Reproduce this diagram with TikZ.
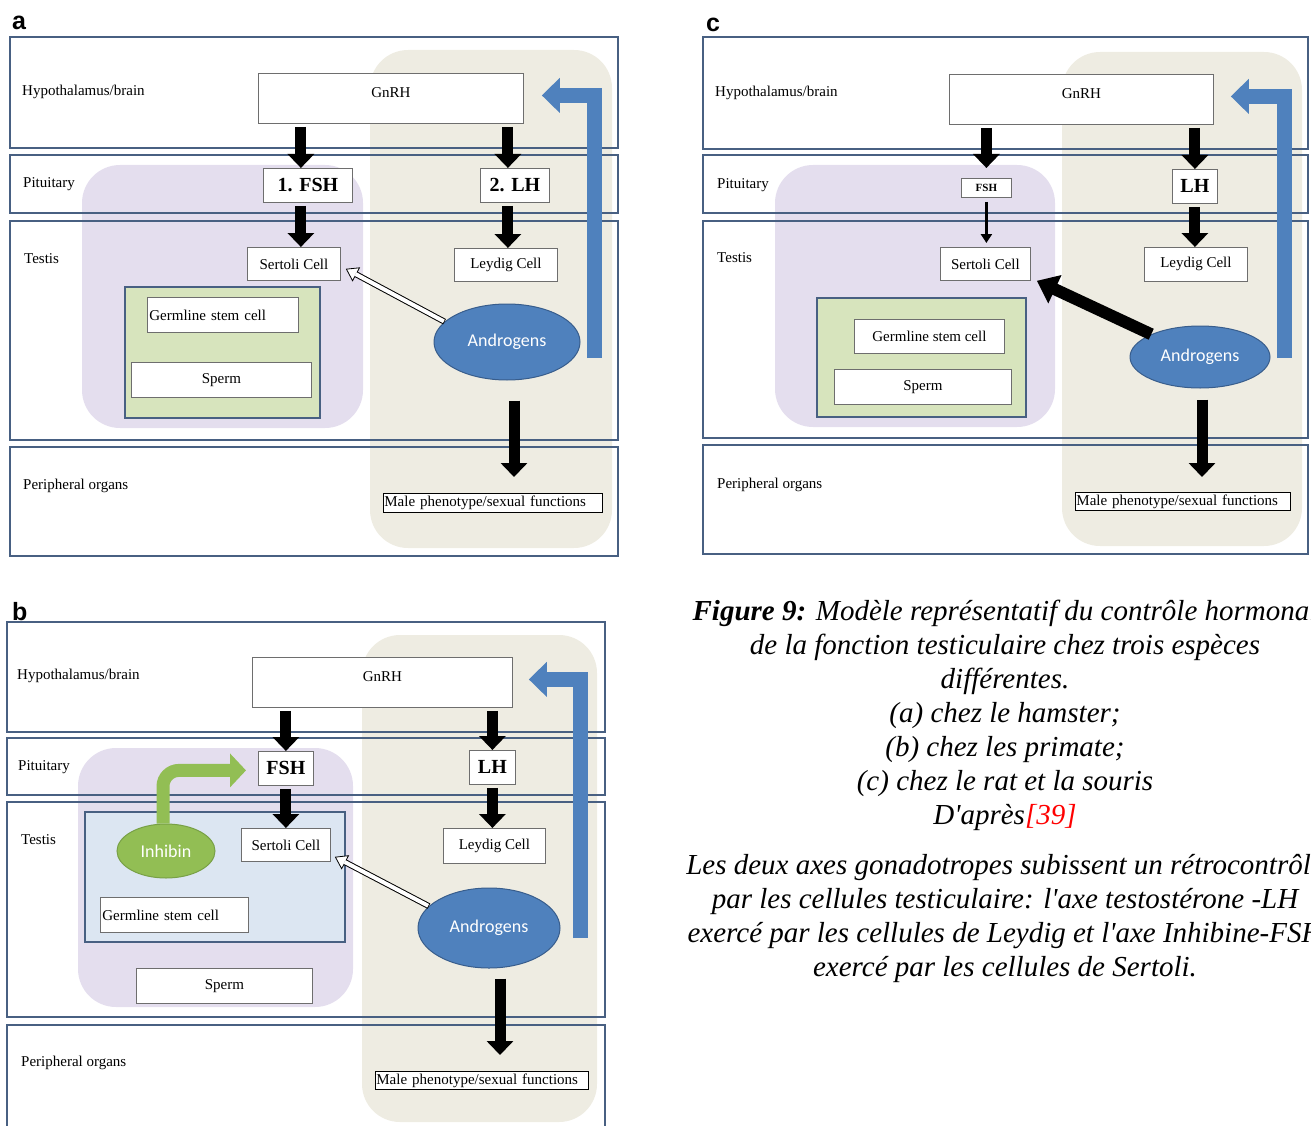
\documentclass[tikz,border=0pt]{standalone}
\usepackage{fontspec}
\setmainfont{Liberation Serif}
\newfontfamily\calibri{Carlito}
\newfontfamily\arialfont{Liberation Sans}
\usetikzlibrary{arrows.meta, positioning, calc, shapes.geometric}
\definecolor{bandline}{RGB}{72,96,130}
\definecolor{lila}{RGB}{228,222,238}
\definecolor{sand}{RGB}{238,236,226}
\definecolor{gruen}{RGB}{215,228,189}
\definecolor{hellblau}{RGB}{220,230,242}
\definecolor{blau}{RGB}{79,129,189}
\definecolor{blaurand}{RGB}{56,93,140}
\definecolor{inhgruen}{RGB}{146,190,84}
\definecolor{inhrand}{RGB}{120,160,70}
\definecolor{boxrand}{RGB}{110,110,110}

\tikzset{
	band/.style={draw=bandline, line width=2.5pt},
	region/.style={rounded corners=38pt},
	inner/.style={draw=bandline, line width=2pt},
	cell/.style={draw=boxrand, fill=white, line width=0.8pt, inner sep=2pt, font=\fontsize{15}{17}\selectfont},
	gnrh/.style={cell, minimum height=50, text depth=12pt, anchor=north west},
	horm/.style={draw=boxrand, fill=white, line width=0.8pt, inner sep=1pt, font=\bfseries\fontsize{20}{22}\selectfont, anchor=north west},
	bandlabel/.style={anchor=west, inner sep=0pt, font=\fontsize{15}{17}\selectfont},
	hormon/.style={ellipse, draw=blaurand, fill=blau, text=white, line width=1pt, font=\calibri\fontsize{18}{20}\selectfont},
	malebox/.style={draw=black, fill=white, line width=0.8pt, inner sep=1pt, align=left, anchor=north west, font=\fontsize{15}{16}\selectfont},
	push/.style={line width=11pt, shorten <=3pt, -{Triangle[width=26pt,length=14pt]}},
	feedback/.style={line width=15pt, blau, -{Triangle[width=34pt,length=18pt]}},
	hollow/.style={line width=6pt, -{Triangle[width=16pt,length=12pt,line width=0.8pt,fill=white]}},
	hollowin/.style={line width=4pt, white, shorten >=11pt, shorten <=0.8pt},
	panel/.style={font=\arialfont\bfseries\fontsize{25}{27}\selectfont, inner sep=0pt, anchor=base west},
	legende/.style={align=center, anchor=north, inner sep=0pt, font=\itshape\fontsize{29}{34}\selectfont},
}

\begin{document}
\begin{tikzpicture}[x=1pt, y=-1pt]
	\useasboundingbox (0,0) rectangle (1311,1126);
	\clip (0,0) rectangle (1311,1126);
	
	% ---------- a ----------
	\node[panel] (letA) at (12,30) {a};
	\fill[sand, region] (370,50) rectangle (612,548);
	\fill[lila, region] (82,165) rectangle (363,428);
	\foreach \t/\b in {37/148, 155/213, 221/440, 447/556}{
		\draw[band] (10,\t) rectangle (618,\b);
	}
	\node[bandlabel] (hypA) at (22,92) {Hypothalamus/brain};
	\node[bandlabel] (pitA) at (23,184) {Pituitary};
	\node[bandlabel] (tesA) at (24,259) {Testis};
	\node[bandlabel] (perA) at (23,486) {Peripheral organs};
	\draw[inner, fill=gruen] (125,287) rectangle (320,418);
	
	\node[gnrh, minimum width=265] (gnrhA) at (258,73) {GnRH};
	\node[horm, minimum width=89, minimum height=34] (fshA) at (263,168) {1. FSH};
	\node[horm, minimum width=69, minimum height=34] (lhA) at (480,168) {2. LH};
	\node[cell, minimum width=93, minimum height=33, anchor=north west] (sertA) at (247,247) {Sertoli Cell};
	\node[cell, minimum width=103, minimum height=33, anchor=north west] (leyA) at (454,248) {Leydig Cell};
	\node[cell, minimum height=35, text width=147, align=left, anchor=north west] (germA) at (147,297) {Germline stem cell};
	\node[cell, minimum width=180, minimum height=35, anchor=north west] (spermA) at (131,362) {Sperm};
	\node[hormon, minimum width=146, minimum height=76] (andA) at (507,342) {Androgens};
	\node[malebox, text width=217, minimum height=19] (maleA) at (383,493) {Male phenotype/sexual functions};
	
	\draw[push] ($(gnrhA.south -| fshA.north)+(-7,0)$) -- ($(fshA.north)+(-7,0)$);
	\draw[push] ($(fshA.south)+(-7,0)$) -- ($(sertA.north -| fshA.south)+(-7,0)$);
	\draw[push] ($(gnrhA.south -| lhA.north)+(-7,0)$) -- ($(lhA.north)+(-7,0)$);
	\draw[push] ($(lhA.south)+(-7,0)$) -- ($(leyA.north -| lhA.south)+(-7,0)$);
	\draw[push, shorten <=20pt, shorten >=16pt] ($(andA.south)+(7,0)$) -- ($(maleA.north -| andA.south)+(7,0)$);
	\draw[hollow] (andA.162) -- ($(sertA.south east)+(5,-12)$);
	\draw[hollowin] (andA.162) -- ($(sertA.south east)+(5,-12)$);
	\coordinate (fbA) at ($(andA.east)+(14,16)$);
	\draw[feedback] (fbA) |- ($(gnrhA.east)+(18,-3)$);
	
	% ---------- b ----------
	\node[panel] (letB) at (12,620) {b};
	\fill[sand, region] (362,635) rectangle (597,1122);
	\fill[lila, region] (78,748) rectangle (353,1007);
	\foreach \t/\b in {622/732, 738/795, 802/1017, 1025/1150}{
		\draw[band] (7,\t) rectangle (605,\b);
	}
	\node[bandlabel] (hypB) at (17,676) {Hypothalamus/brain};
	\node[bandlabel] (pitB) at (18,767) {Pituitary};
	\node[bandlabel] (tesB) at (21,840) {Testis};
	\node[bandlabel] (perB) at (21,1063) {Peripheral organs};
	\draw[inner, fill=hellblau] (85,812) rectangle (345,942);
	
	\node[gnrh, minimum width=260] (gnrhB) at (252,657) {GnRH};
	\node[horm, minimum width=55, minimum height=34] (fshB) at (258,751) {FSH};
	\node[horm, minimum width=46, minimum height=34] (lhB) at (469,750) {LH};
	\node[cell, minimum width=89, minimum height=33, anchor=north west] (sertB) at (241,828) {Sertoli Cell};
	\node[cell, minimum width=102, minimum height=35, anchor=north west] (leyB) at (443,828) {Leydig Cell};
	\node[cell, minimum height=35, text width=144, align=left, anchor=north west] (germB) at (100,897) {Germline stem cell};
	\node[cell, minimum width=176, minimum height=35, anchor=north west] (spermB) at (136,968) {Sperm};
	\node[hormon, draw=inhrand, fill=inhgruen, minimum width=98, minimum height=54] (inhB) at (166,851) {Inhibin};
	\node[hormon, minimum width=142, minimum height=80] (andB) at (489,928) {Androgens};
	\node[malebox, text width=211, minimum height=18] (maleB) at (375,1071) {Male phenotype/sexual functions};
	
	\draw[push] (gnrhB.south -| fshB.north) -- (fshB.north);
	\draw[push] (fshB.south) -- (sertB.north -| fshB.south);
	\draw[push] (gnrhB.south -| lhB.north) -- (lhB.north);
	\draw[push] (lhB.south) -- (leyB.north -| lhB.south);
	\draw[push, shorten <=10pt, shorten >=16pt] ($(andB.south)+(11,0)$) -- ($(maleB.north -| andB.south)+(11,0)$);
	\draw[hollow] (andB.160) -- ($(sertB.south east)+(4,-5)$);
	\draw[hollowin] (andB.160) -- ($(sertB.south east)+(4,-5)$);
	\draw[line width=13pt, inhgruen, rounded corners=16pt, -{Triangle[width=33pt,length=16pt]}] ($(inhB.north)+(-3,0)$) |- ($(fshB.west)+(-12,2)$);
	\coordinate (fbB) at ($(andB.east)+(20,10)$);
	\draw[feedback] (fbB) |- ($(gnrhB.east)+(16,-3)$);
	
	% ---------- c ----------
	\node[panel] (letC) at (706,32) {c};
	\fill[sand, region] (1062,52) rectangle (1302,546);
	\fill[lila, region] (775,165) rectangle (1055,427);
	\foreach \t/\b in {37/149, 155/213, 221/438, 445/554}{
		\draw[band] (703,\t) rectangle (1308,\b);
	}
	\node[bandlabel] (hypC) at (715,93) {Hypothalamus/brain};
	\node[bandlabel] (pitC) at (717,185) {Pituitary};
	\node[bandlabel] (tesC) at (717,258) {Testis};
	\node[bandlabel] (perC) at (717,485) {Peripheral organs};
	\draw[inner, fill=gruen] (817,298) rectangle (1026,417);
	
	\node[gnrh, minimum width=264] (gnrhC) at (949,74) {GnRH};
	\node[horm, minimum width=50, minimum height=19, font=\bfseries\fontsize{11}{12}\selectfont] (fshC) at (961,178) {FSH};
	\node[horm, minimum width=45, minimum height=34] (lhC) at (1172,169) {LH};
	\node[cell, minimum width=90, minimum height=33, anchor=north west] (sertC) at (940,247) {Sertoli Cell};
	\node[cell, minimum width=103, minimum height=34, anchor=north west] (leyC) at (1144,247) {Leydig Cell};
	\node[cell, minimum width=150, minimum height=34, anchor=north west] (germC) at (854,319) {Germline stem cell};
	\node[cell, minimum width=177, minimum height=35, anchor=north west] (spermC) at (834,369) {Sperm};
	\node[hormon, minimum width=140, minimum height=62] (andC) at (1200,357) {Androgens};
	\node[malebox, text width=213, minimum height=18] (maleC) at (1075,492) {Male phenotype/sexual functions};
	
	\draw[push] (gnrhC.south -| fshC.north) -- ($(fshC.north)+(0,-10)$);
	\draw[line width=3.5pt, shorten <=4pt, -{Triangle[width=11pt,length=9pt]}] (fshC.south) -- ($(sertC.north -| fshC.south)+(0,-4)$);
	\draw[push] (gnrhC.south -| lhC.north) -- (lhC.north);
	\draw[push] (lhC.south) -- (leyC.north -| lhC.south);
	\draw[push, shorten <=11pt, shorten >=15pt] ($(andC.south)+(2,0)$) -- ($(maleC.north -| andC.south)+(2,0)$);
	\draw[line width=12pt, -{Triangle[width=30pt,length=20pt]}] (andC.155) -- ($(sertC.south east)+(6,0)$);
	\coordinate (fbC) at ($(andC.east)+(14,1)$);
	\draw[feedback] (fbC) |- ($(gnrhC.east)+(17,-3)$);
	
	% ---------- caption ----------
	\node[legende] (capA) at (1005,600)
		{\textbf{Figure 9:} Modèle représentatif du contrôle hormonal\\
		de la fonction testiculaire chez trois espèces\\
		différentes.\\
		(a) chez le hamster;\\
		(b) chez les primate;\\
		(c) chez le rat et la souris\\
		D\textquotesingle après{\color{red}[39]}};
	\node[legende] (capB) at (1005,854)
		{Les deux axes gonadotropes subissent un rétrocontrôle\\
		par les cellules testiculaire: l\textquotesingle axe testostérone -LH\\
		exercé par les cellules de Leydig et l\textquotesingle axe Inhibine-FSH\\
		exercé par les cellules de Sertoli.};
\end{tikzpicture}
\end{document}
